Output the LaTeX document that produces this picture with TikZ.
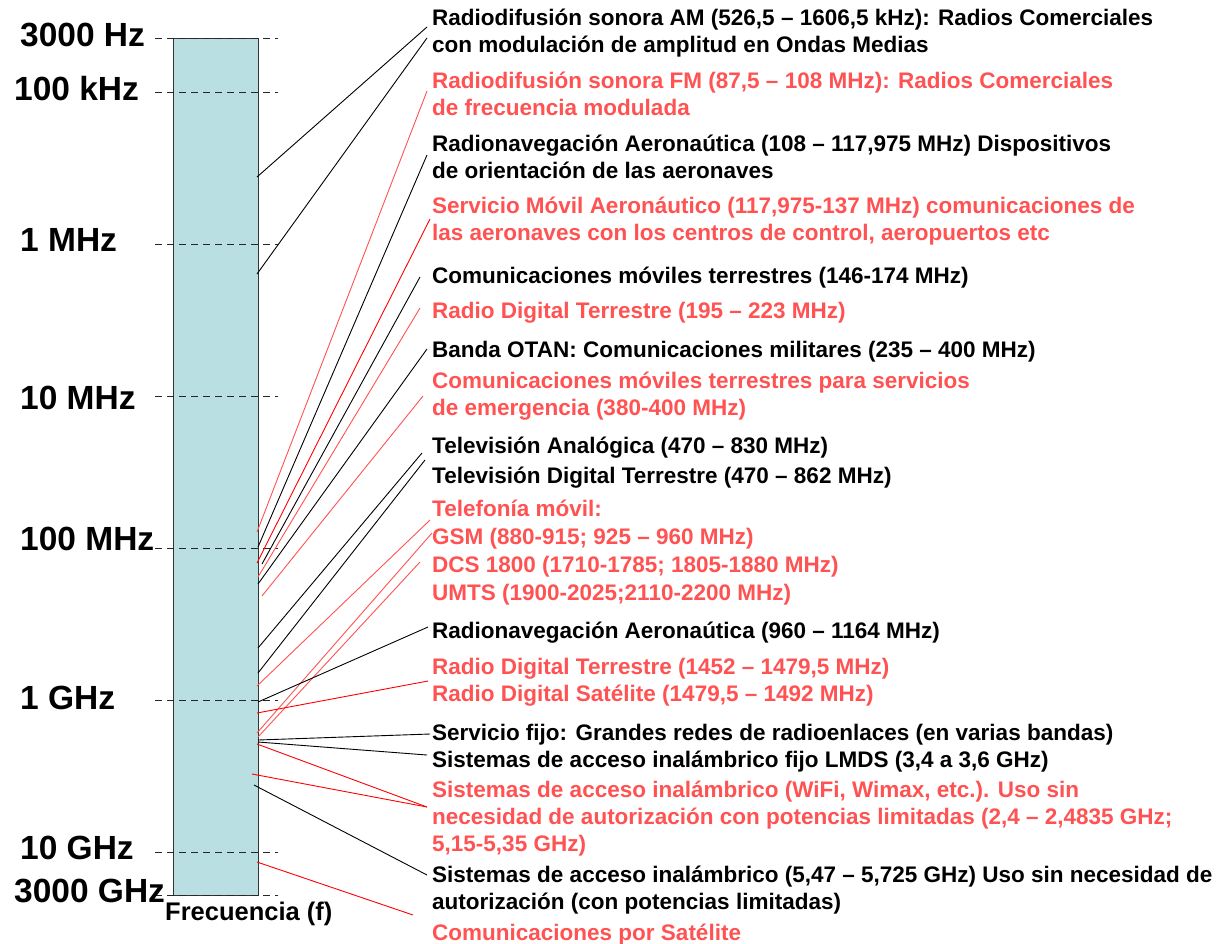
\documentclass[tikz,border=0pt]{standalone}
\usepackage{fontspec}
\setmainfont{Liberation Sans}

\definecolor{barblue}{RGB}{186,223,226}
\definecolor{softred}{RGB}{255,82,82}

\tikzset{
  freq/.style={anchor=base west, inner sep=0pt, font=\fontsize{33.5}{40}\selectfont\bfseries},
  band/.style={anchor=base west, inner sep=0pt, align=left, font=\fontsize{22.5}{27}\selectfont\bfseries},
  redband/.style={band, text=softred},
  scaletick/.style={draw=black!85, line width=1pt, dash pattern=on 7pt off 5pt},
  blk/.style={draw=black, line width=0.9pt},
  soft/.style={draw=softred, line width=0.9pt},
  hard/.style={draw=red, line width=0.9pt}
}

\begin{document}
\begin{tikzpicture}[x=1pt, y=-1pt]
    \useasboundingbox (0,0) rectangle (1231,943);

    % Frequency bar
    \node [draw=black!80, line width=1.2pt, fill=barblue, minimum width=85pt, minimum height=857pt,
           inner sep=0pt, anchor=north west] (bar) at (173,38) {};

    % Scale marks
    \foreach \y in {38,92,244,396,548,700,852,895}
        \draw [scaletick] (155,\y) -- (278,\y);

    \node [freq] (f3k)   at (20,46)  {3000 Hz};
    \node [freq] (f100k) at (14,100) {100 kHz};
    \node [freq] (f1M)   at (20,251) {1 MHz};
    \node [freq] (f10M)  at (20,409) {10 MHz};
    \node [freq] (f100M) at (20,550) {100 MHz};
    \node [freq] (f1G)   at (20,709) {1 GHz};
    \node [freq] (f10G)  at (20,859) {10 GHz};
    \node [freq] (f3T)   at (14,902) {3000 GHz};

    \node [anchor=base west, inner sep=0pt, font=\fontsize{25.5}{30}\selectfont\bfseries] (axis) at (165,920) {Frecuencia (f)};

    % Services (multi-line nodes sit on their last baseline)
    \node [band]    (am)   at (432,52)  {Radiodifusión sonora AM (526,5 – 1606,5 kHz): Radios Comerciales\\con modulación de amplitud en Ondas Medias};
    \node [redband] (fm)   at (432,115) {Radiodifusión sonora FM (87,5 – 108 MHz): Radios Comerciales\\de frecuencia modulada};
    \node [band]    (rn1)  at (432,178) {Radionavegación Aeronaútica (108 – 117,975 MHz) Dispositivos\\de orientación de las aeronaves};
    \node [redband] (sma)  at (432,240) {Servicio Móvil Aeronáutico (117,975-137 MHz) comunicaciones de\\las aeronaves con los centros de control, aeropuertos etc};
    \node [band]    (cmt)  at (432,283) {Comunicaciones móviles terrestres (146-174 MHz)};
    \node [redband] (rdt1) at (432,318) {Radio Digital Terrestre (195 – 223 MHz)};
    \node [band]    (otan) at (432,357) {Banda OTAN: Comunicaciones militares (235 – 400 MHz)};
    \node [redband] (emer) at (432,415) {Comunicaciones móviles terrestres para servicios\\de emergencia (380-400 MHz)};
    \node [band]    (tva)  at (432,453) {Televisión Analógica (470 – 830 MHz)};
    \node [band]    (tvd)  at (432,483) {Televisión Digital Terrestre (470 – 862 MHz)};
    \node [redband, font=\fontsize{22.5}{27.7}\selectfont\bfseries] (tel) at (432,600) {Telefonía móvil:\\GSM (880-915; 925 – 960 MHz)\\DCS 1800 (1710-1785; 1805-1880 MHz)\\UMTS (1900-2025;2110-2200 MHz)};
    \node [band]    (rn2)  at (432,638) {Radionavegación Aeronaútica (960 – 1164 MHz)};
    \node [redband] (rdt2) at (432,701) {Radio Digital Terrestre (1452 – 1479,5 MHz)\\Radio Digital Satélite (1479,5 – 1492 MHz)};
    \node [band]    (sf)   at (432,740) {Servicio fijo: Grandes redes de radioenlaces (en varias bandas)};
    \node [band]    (lmds) at (432,767) {Sistemas de acceso inalámbrico fijo LMDS (3,4 a 3,6 GHz)};
    \node [redband] (wifi) at (432,851) {Sistemas de acceso inalámbrico (WiFi, Wimax, etc.). Uso sin\\necesidad de autorización con potencias limitadas (2,4 – 2,4835 GHz;\\5,15-5,35 GHz)};
    \node [band]    (w5)   at (432,909) {Sistemas de acceso inalámbrico (5,47 – 5,725 GHz) Uso sin necesidad de\\autorización (con potencias limitadas)};
    \node [redband] (sat)  at (432,940) {Comunicaciones por Satélite};

    % Links text -> bar
    \foreach \nm/\xt/\yt/\xb/\yb/\sty in {
        am1/427/27/257/177/blk, am2/427/38/257/274/blk,
        fm/427/91/257/532/soft, rn1/427/155/258/547/blk,
        sma/430/219/257/563/hard, cmt/420/277/262/564/blk,
        rdt1/420/308/258/577/soft, otan/427/349/258/584/blk,
        emer/423/396/262/596/soft, tva/422/453/258/648/blk,
        tvd/425/460/258/673/blk, gsm/430/520/257/686/soft,
        dcs/432/533/257/733/soft, umts/420/562/258/737/soft,
        rn2/428/627/258/702/blk, rdt2/428/681/257/713/hard,
        sf/430/734/258/740/blk, lmds/427/755/258/742/blk,
        wifi1/427/807/257/744/hard, wifi2/427/807/252/774/hard,
        w5/427/875/254/785/blk, sat/413/915/257/862/hard}
    {
        \coordinate (\nm t) at (\xt,\yt);
        \coordinate (\nm b) at (\xb,\yb);
        \draw [\sty] (\nm t) -- (\nm b);
    }
\end{tikzpicture}
\end{document}
